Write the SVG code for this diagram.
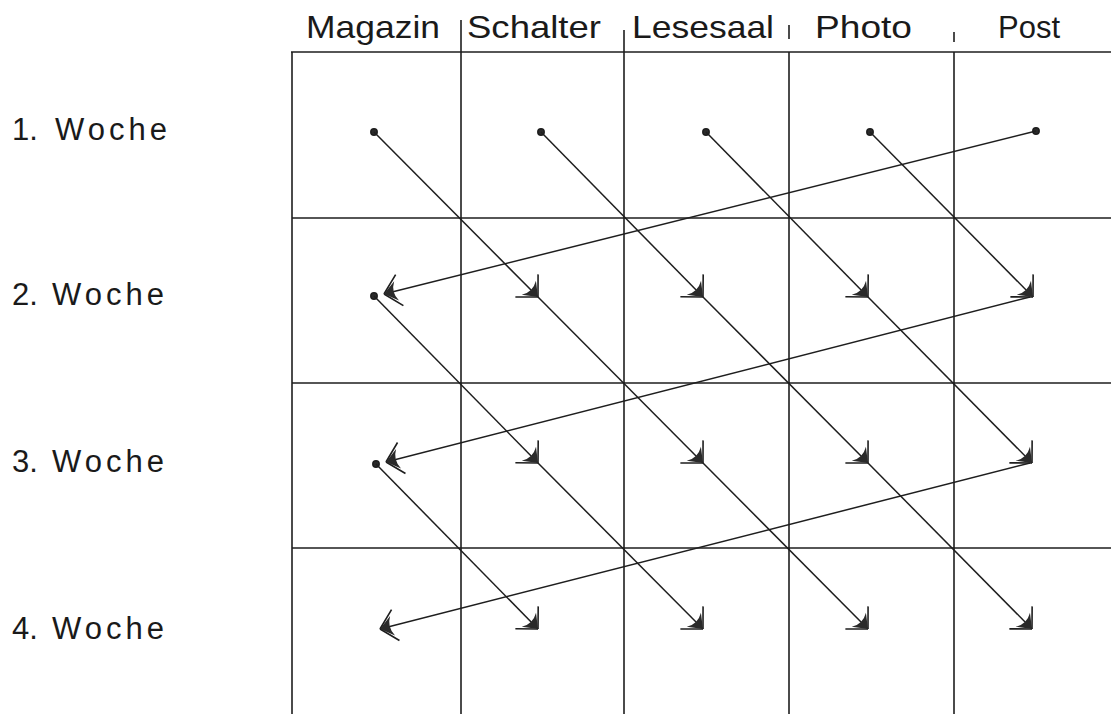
<svg xmlns="http://www.w3.org/2000/svg" width="1111" height="714" viewBox="0 0 1111 714">
<style>
.grid{stroke:#1e1e1e;stroke-width:1.6;fill:none}
.lbl{font-family:"Liberation Sans","DejaVu Sans",sans-serif;font-size:31px;fill:#1a1a1a}
.con{stroke:#1e1e1e;stroke-width:1.5;fill:none}
.dot{fill:#2a2a2a}
</style>
<defs>
<marker id="ah" markerUnits="userSpaceOnUse" orient="auto" viewBox="-30 -20 40 40" markerWidth="40" markerHeight="40" refX="0" refY="0" overflow="visible">
<path d="M0,0 L-16,-16 M0,0 L-16,16" stroke="#1e1e1e" stroke-width="1.6" fill="none"/>
<path d="M0,0 L-13,-10 Q-7,0 -13,10 Z" fill="#2a2a2a"/>
</marker>
</defs>
<rect width="1111" height="714" fill="#ffffff"/>
<g id="grid" class="grid">
<line x1="291" y1="52" x2="1111" y2="52"/>
<line x1="292" y1="218" x2="1111" y2="218"/>
<line x1="292" y1="383" x2="1111" y2="383"/>
<line x1="292" y1="548" x2="1111" y2="548"/>
<line x1="292" y1="52" x2="292" y2="714"/>
<line x1="461" y1="20" x2="461" y2="714"/>
<line x1="624" y1="30" x2="624" y2="714"/>
<line x1="789" y1="52" x2="789" y2="714"/>
<line x1="789" y1="25" x2="789" y2="39"/>
<line x1="954" y1="52" x2="954" y2="714"/>
<line x1="954" y1="32" x2="954" y2="42"/>
</g>
<g id="headers" class="lbl" style="font-size:32px">
<text id="h-magazin" x="306" y="38" textLength="134" lengthAdjust="spacingAndGlyphs">Magazin</text>
<text id="h-schalter" x="467" y="38" textLength="134" lengthAdjust="spacingAndGlyphs">Schalter</text>
<text id="h-lesesaal" x="632" y="38" textLength="142" lengthAdjust="spacingAndGlyphs">Lesesaal</text>
<text id="h-photo" x="815" y="38" textLength="97" lengthAdjust="spacingAndGlyphs">Photo</text>
<text id="h-post" x="998" y="38" textLength="62" lengthAdjust="spacingAndGlyphs">Post</text>
</g>
<g id="rows" class="lbl">
<text id="w1" x="12" y="140"><tspan x="12">1.</tspan><tspan x="55" letter-spacing="4">Woche</tspan></text>
<text id="w2" x="12" y="305"><tspan x="12">2.</tspan><tspan x="52" letter-spacing="4">Woche</tspan></text>
<text id="w3" x="12" y="472"><tspan x="12">3.</tspan><tspan x="52" letter-spacing="4">Woche</tspan></text>
<text id="w4" x="12" y="639"><tspan x="12">4.</tspan><tspan x="52" letter-spacing="4">Woche</tspan></text>
</g>
<g id="connectors" class="con">
<circle class="dot" cx="374" cy="132" r="3.2"/>
<circle class="dot" cx="541" cy="132" r="3.2"/>
<circle class="dot" cx="706" cy="132" r="3.2"/>
<circle class="dot" cx="870" cy="132" r="3.2"/>
<circle class="dot" cx="1036" cy="131" r="3.2"/>
<circle class="dot" cx="374" cy="296" r="3.2"/>
<circle class="dot" cx="376" cy="464" r="3.2"/>
<line x1="374" y1="132" x2="538" y2="297" marker-end="url(#ah)"/>
<line x1="538" y1="297" x2="703" y2="463" marker-end="url(#ah)"/>
<line x1="703" y1="463" x2="868" y2="629" marker-end="url(#ah)"/>
<line x1="541" y1="132" x2="703" y2="297" marker-end="url(#ah)"/>
<line x1="703" y1="297" x2="868" y2="463" marker-end="url(#ah)"/>
<line x1="868" y1="463" x2="1032" y2="629" marker-end="url(#ah)"/>
<line x1="706" y1="132" x2="868" y2="297" marker-end="url(#ah)"/>
<line x1="868" y1="297" x2="1032" y2="463" marker-end="url(#ah)"/>
<line x1="870" y1="132" x2="1033" y2="297" marker-end="url(#ah)"/>
<line x1="374" y1="296" x2="538" y2="463" marker-end="url(#ah)"/>
<line x1="538" y1="463" x2="703" y2="629" marker-end="url(#ah)"/>
<line x1="376" y1="464" x2="538" y2="629" marker-end="url(#ah)"/>
<line x1="1036" y1="131" x2="384" y2="294" marker-end="url(#ah)"/>
<line x1="1030" y1="297" x2="386" y2="462" marker-end="url(#ah)"/>
<line x1="1030" y1="463" x2="380" y2="629" marker-end="url(#ah)"/>
</g>
</svg>
